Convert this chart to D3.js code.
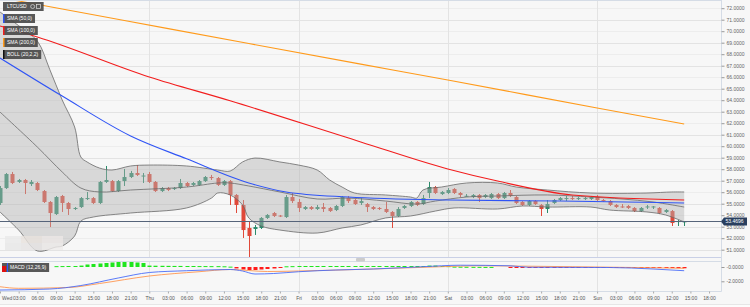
<!DOCTYPE html>
<html>
<head>
<meta charset="utf-8">
<script src="https://cdn.jsdelivr.net/npm/d3@7"></script>
<style>
body { margin: 0; background: #f7f7f7; }
svg { display: block; font-family: "Liberation Sans", Arial, sans-serif; }
</style>
</head>
<body>
<div id="chart-area"></div>
<script>
// hourly candles, Wed 00:00 onwards
var openP = [55.06,56.36,57.58,56.89,57.06,56.71,56.80,56.10,55.15,54.10,
	55.67,55.06,54.54,54.71,55.41,55.49,55.06,56.89,56.97,56.10,
	56.97,57.32,57.67,57.41,57.58,56.89,56.10,56.36,56.28,56.36,
	56.80,56.63,56.63,56.97,57.32,57.23,56.63,56.97,55.76,54.89,
	52.89,52.80,52.89,53.76,54.19,53.97,53.84,55.58,55.15,54.54,
	54.71,54.54,54.71,54.63,54.45,54.80,55.49,55.32,55.06,54.97,
	54.71,54.63,54.54,54.28,53.93,54.63,54.80,55.15,54.97,55.93,
	56.45,55.84,55.93,56.28,55.93,55.67,55.58,55.76,55.58,55.49,
	55.84,55.49,55.93,55.58,55.15,54.89,55.23,54.89,54.54,55.06,
	55.32,55.41,55.49,55.41,55.41,55.41,55.58,55.32,55.23,54.89,
	54.76,54.80,54.63,54.36,54.71,54.71,54.63,54.28,54.36,53.41,
	53.45];
var closeP = [56.36,57.58,56.80,57.06,56.80,56.89,56.19,55.15,54.19,55.58,
	55.06,54.54,54.63,55.49,55.49,55.06,56.89,57.06,56.10,56.97,
	57.32,57.67,57.50,57.45,56.89,56.10,56.36,56.19,56.36,56.80,
	56.54,56.80,56.97,57.32,57.23,56.63,56.97,55.76,54.89,52.71,
	52.19,52.97,53.76,54.02,53.93,53.89,55.58,55.23,54.63,54.71,
	54.54,54.71,54.54,54.36,54.80,55.58,55.23,54.97,55.23,54.71,
	54.54,54.54,54.28,53.93,54.54,54.80,55.15,54.89,55.49,56.45,
	55.93,56.02,56.19,55.93,55.76,55.69,55.76,55.49,55.76,55.84,
	55.49,55.93,55.67,55.06,54.89,55.23,54.97,54.54,54.97,55.32,
	55.49,55.49,55.41,55.49,55.49,55.58,55.32,55.23,54.89,54.71,
	54.71,54.63,54.36,54.63,54.76,54.76,54.19,54.45,53.32,53.49,
	53.47];
var highP = [56.54,57.67,57.76,57.15,57.15,57.06,56.89,56.19,55.23,55.67,
	55.76,55.15,54.71,55.58,56.02,55.58,56.97,58.28,57.06,57.06,
	58.02,57.85,58.36,57.67,57.76,56.97,56.45,56.45,56.45,57.15,
	56.89,56.89,57.06,57.41,57.50,57.32,57.06,57.06,55.84,55.32,
	53.41,53.15,53.84,54.10,54.28,54.02,55.76,55.93,55.41,54.80,
	54.80,54.89,55.06,54.71,54.89,55.67,55.67,55.41,55.49,55.06,
	54.80,54.71,55.15,54.36,54.71,54.89,55.23,55.23,55.76,56.89,
	56.54,56.10,56.36,56.36,56.02,55.84,55.84,55.84,55.84,55.93,
	55.93,56.02,56.19,55.67,55.23,55.32,55.32,54.97,55.32,55.41,
	55.58,55.67,55.67,55.58,55.58,55.67,55.76,55.41,55.32,54.97,
	54.97,54.89,54.71,54.71,54.89,54.80,54.71,54.54,54.45,53.58,
	53.49];
var lowP = [54.89,56.28,56.71,56.80,55.84,56.54,56.10,55.06,52.97,54.02,
	54.28,54.02,54.45,54.63,55.32,54.97,54.97,56.80,56.02,56.02,
	56.54,57.23,57.41,56.80,56.80,56.02,56.02,56.10,56.19,56.28,
	56.45,56.54,56.54,56.89,57.06,56.54,56.54,54.89,54.19,52.02,
	50.36,52.28,52.80,53.67,53.84,53.84,53.76,55.06,54.28,54.45,
	54.45,54.45,54.28,54.28,54.36,54.71,55.06,54.89,54.89,54.28,
	54.45,54.45,54.19,52.89,53.84,54.54,54.71,54.80,54.89,55.49,
	55.84,55.76,55.84,55.84,55.58,55.58,55.49,55.15,55.49,55.41,
	55.41,55.41,55.58,54.97,54.80,54.80,54.89,53.93,54.19,54.97,
	55.23,55.23,55.32,55.32,55.32,55.32,55.23,55.15,54.80,54.63,
	54.63,54.54,54.28,54.28,54.54,54.54,54.10,54.19,53.06,53.06,
	53.06];
var lastPrice = 53.4696;

// moving averages (hour index, value)
var sma50Hours = [0,10,21,30,40,46,56,72,90,110];
var sma50 = [67.67,64.36,60.89,58.90,56.80,56.02,55.58,55.32,55.23,55.06];
var sma100Hours = [0,6,24,37,58,72,80,92,110];
var sma100 = [70.45,69.50,66.02,63.95,60.37,58.02,56.97,55.76,55.32];
var sma200Hours = [0,20,40,58,72,96,110];
var sma200 = [72.93,70.93,68.93,67.14,65.76,63.32,61.93];

// bollinger bands
var upperHours = [0,3,6,8,10,12,13,14,16,18,21,24,30,35,37,39,41,45,48,51,53,55,57,62,66,67,68,71,75,80,83,88,95,104,108,110];
var upperBand = [71.67,70.48,69.15,66.67,64.02,61.67,59.06,58.63,58.10,57.93,58.28,58.36,58.28,57.93,57.84,58.63,58.97,58.63,58.36,57.93,57.06,56.45,55.93,55.76,55.58,55.49,56.19,56.45,56.80,56.80,56.45,56.19,55.93,55.93,56.02,56.02];
var middleHours = [0,6,10,13,16,21,30,35,37,40,45,51,56,62,67,70,75,80,88,95,100,105,110];
var middleBand = [62.97,59.93,57.76,56.36,56.02,56.19,56.45,56.80,56.80,56.54,56.02,55.41,55.49,55.23,54.97,55.23,55.58,55.67,55.76,55.58,55.41,55.15,54.71];
var lowerHours = [0,3,6,9,10,12,13,15,21,30,34,35,37,39,40,42,45,51,55,58,62,66,70,73,80,84,88,95,98,104,107,110];
var lowerBand = [54.28,52.71,50.89,51.23,51.32,52.19,53.49,53.84,54.19,54.63,55.49,55.93,55.76,54.89,53.76,53.06,52.71,52.45,52.89,53.15,53.76,53.93,54.36,54.63,54.54,54.80,54.71,54.71,54.45,54.28,54.02,53.41];

// MACD pane
var macdHours = [0,8,13,19,24,30,37,39,41,44,48,54,60,68,74,82,85,98,105,110];
var macdLine = [-3.22,-3.08,-2.59,-1.54,-0.77,-0.52,-0.35,-0.56,-0.98,-0.91,-0.66,-0.42,-0.28,0.04,0.25,0.17,-0.04,-0.07,-0.28,-0.52];
var signalHours = [0,3,11,16,24,32,37,43,48,60,71,77,82,92,102,110];
var signalLine = [-2.76,-2.98,-2.87,-2.31,-1.26,-0.66,-0.35,-0.63,-0.56,-0.28,0.04,0.17,0.14,0.04,-0.07,-0.18];
var macdHist = [null,null,null,null,null,null,null,null,null,
	0.12,0.13,0.14,0.14,0.2,
	0.35,0.42,0.49,0.56,0.63,0.7,0.7,0.7,0.63,0.56,
	0.2,0.18,0.17,0.16,0.15,0.15,0.14,0.14,0.13,0.13,0.12,0.12,0.1,
	0.05,
	-0.2,-0.35,-0.42,-0.42,-0.35,-0.28,-0.21,-0.14,
	0.1,0.12,0.14,0.14,0.14,0.14,0.14,0.14,0.14,0.14,0.14,0.14,0.14,0.14,0.14,0.14,0.14,0.14,0.14,0.14,0.14,0.14,0.14,0.2,0.2,0.14,0.12,
	0.05,0.04,0.03,0.02,0.02,0.01,0.01,0,0,-0.02,
	-0.1,-0.12,-0.14,-0.14,-0.14,-0.14,-0.14,-0.14,-0.14,-0.14,-0.14,-0.14,-0.14,-0.14,-0.14,-0.14,-0.14,-0.14,-0.14,-0.14,-0.14,-0.14,-0.14,-0.14,-0.14,-0.14,-0.16,-0.18];

var priceTicks = d3.range(51, 73);
var macdTicks = [0, -2];
var timeTickHours = d3.range(0, 115, 3);
var legendNames = ["SMA (50,0)", "SMA (100,0)", "SMA (200,0)", "BOLL (20,2,2)"];
var legendColors = ["#2f54f5", "#f21d1d", "#ff9a1a", "#111"];

var width = 750, height = 307;
var plotW = 721.5;
var mainBottom = 257.5, macdTop = 261.5, macdBottom = 291.5;
var borderColor = "#d5dce6";
var fontPx = "5px";

var t0 = Date.UTC(2019, 0, 2, 0, 0); // a wednesday
function hourTime(h) { return new Date(t0 + h * 3600000); }

var x = d3.scaleUtc().domain([hourTime(0), hourTime(116)]).range([0, plotW]);
var y = d3.scaleLinear().domain([51, 72]).range([249.7, 8.2]);
var yM = d3.scaleLinear().domain([-2, 0]).range([281.3, 267]);

var svg = d3.select("#chart-area").append("svg")
	.attr("width", width)
	.attr("height", height);

svg.append("rect").attr("width", width).attr("height", height).attr("fill", "#f7f7f7");
svg.append("rect").attr("y", 304.5).attr("width", width).attr("height", 3).attr("fill", "#fcfcfc");
svg.append("line").attr("x1", 0).attr("x2", width).attr("y1", 304.5).attr("y2", 304.5)
	.attr("stroke", "#e6e6e6");

var defs = svg.append("defs");
defs.append("clipPath").attr("id", "clipMain").append("rect")
	.attr("width", plotW).attr("height", mainBottom);
defs.append("clipPath").attr("id", "clipMacd").append("rect")
	.attr("y", macdTop).attr("width", plotW).attr("height", macdBottom - macdTop);

// grid
var grid = svg.append("g");
grid.selectAll(".hgrid").data(priceTicks).enter().append("line")
	.attr("x1", 0).attr("x2", plotW)
	.attr("y1", (d) => Math.round(y(d)) + 0.5)
	.attr("y2", (d) => Math.round(y(d)) + 0.5)
	.attr("stroke", (d) => d % 2 ? "#e3e3e3" : "#ededed");
[24, 48, 72, 96].forEach((h) => {
	var xx = Math.round(x(hourTime(h))) + 0.5;
	grid.append("line").attr("x1", xx).attr("x2", xx).attr("y1", 0).attr("y2", mainBottom).attr("stroke", "#e3e3e3");
	grid.append("line").attr("x1", xx).attr("x2", xx).attr("y1", macdTop).attr("y2", macdBottom).attr("stroke", "#e3e3e3");
});

var main = svg.append("g").attr("clip-path", "url(#clipMain)");

// candles
var candles = openP.map((o, i) => ({t: hourTime(i), o: o, h: highP[i], l: lowP[i], c: closeP[i]}));
var upColor = "#2b8a6a", downColor = "#e0493a";

var cg = main.selectAll(".candle").data(candles).enter().append("g");
cg.append("line")
	.attr("x1", (d) => Math.round(x(d.t)) + 0.5)
	.attr("x2", (d) => Math.round(x(d.t)) + 0.5)
	.attr("y1", (d) => y(d.h))
	.attr("y2", (d) => y(d.l))
	.attr("stroke", (d) => d.c >= d.o ? upColor : downColor);
cg.append("rect")
	.attr("x", (d) => Math.round(x(d.t)) - 1.5)
	.attr("width", 4)
	.attr("y", (d) => y(Math.max(d.o, d.c)))
	.attr("height", (d) => Math.max(1, Math.abs(y(d.o) - y(d.c))))
	.attr("fill", (d) => d.c >= d.o ? upColor : downColor);

// bollinger band
function pts(hs, vs) { return hs.map((h, i) => [x(hourTime(h)), y(vs[i])]); }
var curve = d3.curveCatmullRom.alpha(0.5);
var lineGen = d3.line().curve(curve);
var upPts = pts(upperHours, upperBand);
var loPts = pts(lowerHours, lowerBand);
var fillPath = lineGen(upPts) + "L" + lineGen(loPts.slice().reverse()).slice(1) + "Z";
main.append("path").attr("d", fillPath).attr("fill", "rgba(178,178,178,0.45)");
[upPts, pts(middleHours, middleBand), loPts].forEach((p) => {
	main.append("path").attr("d", lineGen(p)).attr("fill", "none")
		.attr("stroke", "#6a6a6a").attr("stroke-width", 0.8);
});

// SMAs
var smaLine = d3.line().curve(d3.curveMonotoneX);
[[sma200Hours, sma200, "#ff9a1a"], [sma100Hours, sma100, "#f21d1d"], [sma50Hours, sma50, "#2f54f5"]].forEach((s) => {
	main.append("path").attr("d", smaLine(pts(s[0], s[1]))).attr("fill", "none")
		.attr("stroke", s[2]).attr("stroke-width", 1.1);
});

// faint blurred patch
var patch = svg.append("g").attr("opacity", 0.8);
[[5, 236, 16, "#eaeaea"], [21, 236, 21, "#e9e3de"], [42, 236, 21, "#ece8e6"],
 [5, 243, 16, "#e7e7e7"], [21, 243, 21, "#e6e4e4"], [42, 243, 21, "#efeceb"]].forEach((p) => {
	patch.append("rect").attr("x", p[0]).attr("y", p[1]).attr("width", p[2]).attr("height", 7).attr("fill", p[3]);
});

// last price line
var py = Math.round(y(lastPrice)) + 0.5;
svg.append("line").attr("x1", 0).attr("x2", plotW).attr("y1", py).attr("y2", py)
	.attr("stroke", "#56647a").attr("stroke-width", 1);

// MACD pane
var mg = svg.append("g").attr("clip-path", "url(#clipMacd)");
var histData = macdHist.map((v, i) => ({t: hourTime(i), v: v})).filter((d) => d.v !== null && d.v !== 0);
mg.selectAll(".hist").data(histData).enter().append("rect")
	.attr("x", (d) => Math.round(x(d.t)) - 1.5)
	.attr("width", 4)
	.attr("y", (d) => d.v > 0 ? yM(d.v) : yM(0))
	.attr("height", (d) => Math.max(1, Math.abs(yM(d.v) - yM(0))))
	.attr("fill", (d) => d.v > 0 ? "#1ee61e" : "#ff1a1a");
var mLine = d3.line().curve(d3.curveMonotoneX);
function mpts(hs, vs) { return hs.map((h, i) => [x(hourTime(h)), yM(vs[i])]); }
mg.append("path").attr("d", mLine(mpts(signalHours, signalLine))).attr("fill", "none")
	.attr("stroke", "#ff9650").attr("stroke-width", 0.9);
mg.append("path").attr("d", mLine(mpts(macdHours, macdLine))).attr("fill", "none")
	.attr("stroke", "#4a6cf7").attr("stroke-width", 0.9);

// borders
var borders = svg.append("g").attr("stroke", borderColor).attr("fill", "none");
borders.append("line").attr("x1", 0).attr("x2", plotW).attr("y1", 0.5).attr("y2", 0.5);
borders.append("line").attr("x1", 0).attr("x2", plotW).attr("y1", mainBottom).attr("y2", mainBottom).attr("stroke", "#c9d0e6");
borders.append("line").attr("x1", 0).attr("x2", plotW).attr("y1", macdTop).attr("y2", macdTop);
borders.append("line").attr("x1", 0).attr("x2", plotW).attr("y1", macdBottom).attr("y2", macdBottom);
borders.append("line").attr("x1", plotW).attr("x2", plotW).attr("y1", 0).attr("y2", macdBottom);
svg.append("rect").attr("x", 356).attr("y", 258).attr("width", 9).attr("height", 3.5)
	.attr("rx", 1).attr("fill", "#cccccc");

// right price axis
var rightAxis = d3.axisRight(y).tickValues(priceTicks).tickSize(3)
	.tickFormat((d) => d.toFixed(4));
var ra = svg.append("g").attr("transform", "translate(" + plotW + ",0)").call(rightAxis);
ra.select(".domain").remove();
ra.selectAll("line").attr("stroke", "#999");
ra.selectAll("text").attr("font-size", fontPx).attr("fill", "#666").attr("x", 5)
	.style("font-family", "Liberation Sans, Arial, sans-serif");

var macdAxis = d3.axisRight(yM).tickValues(macdTicks).tickSize(3)
	.tickFormat((d) => d === 0 ? "-0.0000" : d.toFixed(4));
var ma = svg.append("g").attr("transform", "translate(" + plotW + ",0)").call(macdAxis);
ma.select(".domain").remove();
ma.selectAll("line").attr("stroke", "#999");
ma.selectAll("text").attr("font-size", fontPx).attr("fill", "#666").attr("x", 5)
	.style("font-family", "Liberation Sans, Arial, sans-serif");

// price tag
var tag = svg.append("g").attr("transform", "translate(0," + py + ")");
tag.append("path").attr("d", "M721,0 L724,-4 L747,-4 L747,4 L724,4 Z").attr("fill", "#2a3f5f");
tag.append("text").attr("x", 725.5).attr("y", 1.8).attr("font-size", fontPx).attr("fill", "#fff")
	.text(lastPrice.toFixed(4));

// time axis
var fmtDay = d3.utcFormat("%a"), fmtHour = d3.utcFormat("%H:%M");
var bottomAxis = d3.axisBottom(x).tickValues(timeTickHours.map(hourTime)).tickSize(2)
	.tickFormat((d) => d.getUTCHours() === 0 ? fmtDay(d) : fmtHour(d));
var ba = svg.append("g").attr("transform", "translate(0," + macdBottom + ")").call(bottomAxis);
ba.select(".domain").remove();
ba.selectAll("line").attr("stroke", "#aaa");
ba.selectAll("text").attr("font-size", fontPx).attr("fill", "#555").attr("y", 5)
	.style("font-family", "Liberation Sans, Arial, sans-serif");
ba.select(".tick text").attr("text-anchor", "start").attr("x", 1.5);

// legends
function legendBox(g, x0, y0, color, label, extra) {
	var box = g.append("rect").attr("x", x0).attr("y", y0).attr("height", 9)
		.attr("fill", "#4a4a4a").attr("opacity", 0.92);
	if (color) g.append("rect").attr("x", x0).attr("y", y0).attr("width", 1.5).attr("height", 9).attr("fill", color);
	var t = g.append("text").attr("x", x0 + 4).attr("y", y0 + 6.3).attr("font-size", fontPx).attr("fill", "#fff").text(label);
	var w = t.node().getComputedTextLength() + 7 + (extra || 0);
	box.attr("width", w);
	return w;
}
var lg = svg.append("g");
var w0 = legendBox(lg, 3, 2, null, "LTCUSD", 14);
lg.append("circle").attr("cx", 3 + w0 - 11).attr("cy", 6.5).attr("r", 2).attr("fill", "none").attr("stroke", "#ddd").attr("stroke-width", 0.7);
lg.append("rect").attr("x", 3 + w0 - 7).attr("y", 4.5).attr("width", 4).attr("height", 4).attr("fill", "none").attr("stroke", "#ddd").attr("stroke-width", 0.7);
legendNames.forEach((n, i) => {
	legendBox(lg, 3, 14 + i * 12, legendColors[i], n);
});

// MACD legend
var ml = svg.append("g");
var mbox = ml.append("rect").attr("x", 2).attr("y", 263).attr("height", 9).attr("fill", "#4a4a4a").attr("opacity", 0.92);
ml.append("rect").attr("x", 2).attr("y", 266).attr("width", 4).attr("height", 6).attr("fill", "#e01010");
ml.append("rect").attr("x", 7).attr("y", 263).attr("width", 1).attr("height", 9).attr("fill", "#3355ff");
var mt = ml.append("text").attr("x", 10).attr("y", 269.3).attr("font-size", fontPx).attr("fill", "#fff").text("MACD (12,26,9)");
mbox.attr("width", mt.node().getComputedTextLength() + 11);
</script>
</body>
</html>
